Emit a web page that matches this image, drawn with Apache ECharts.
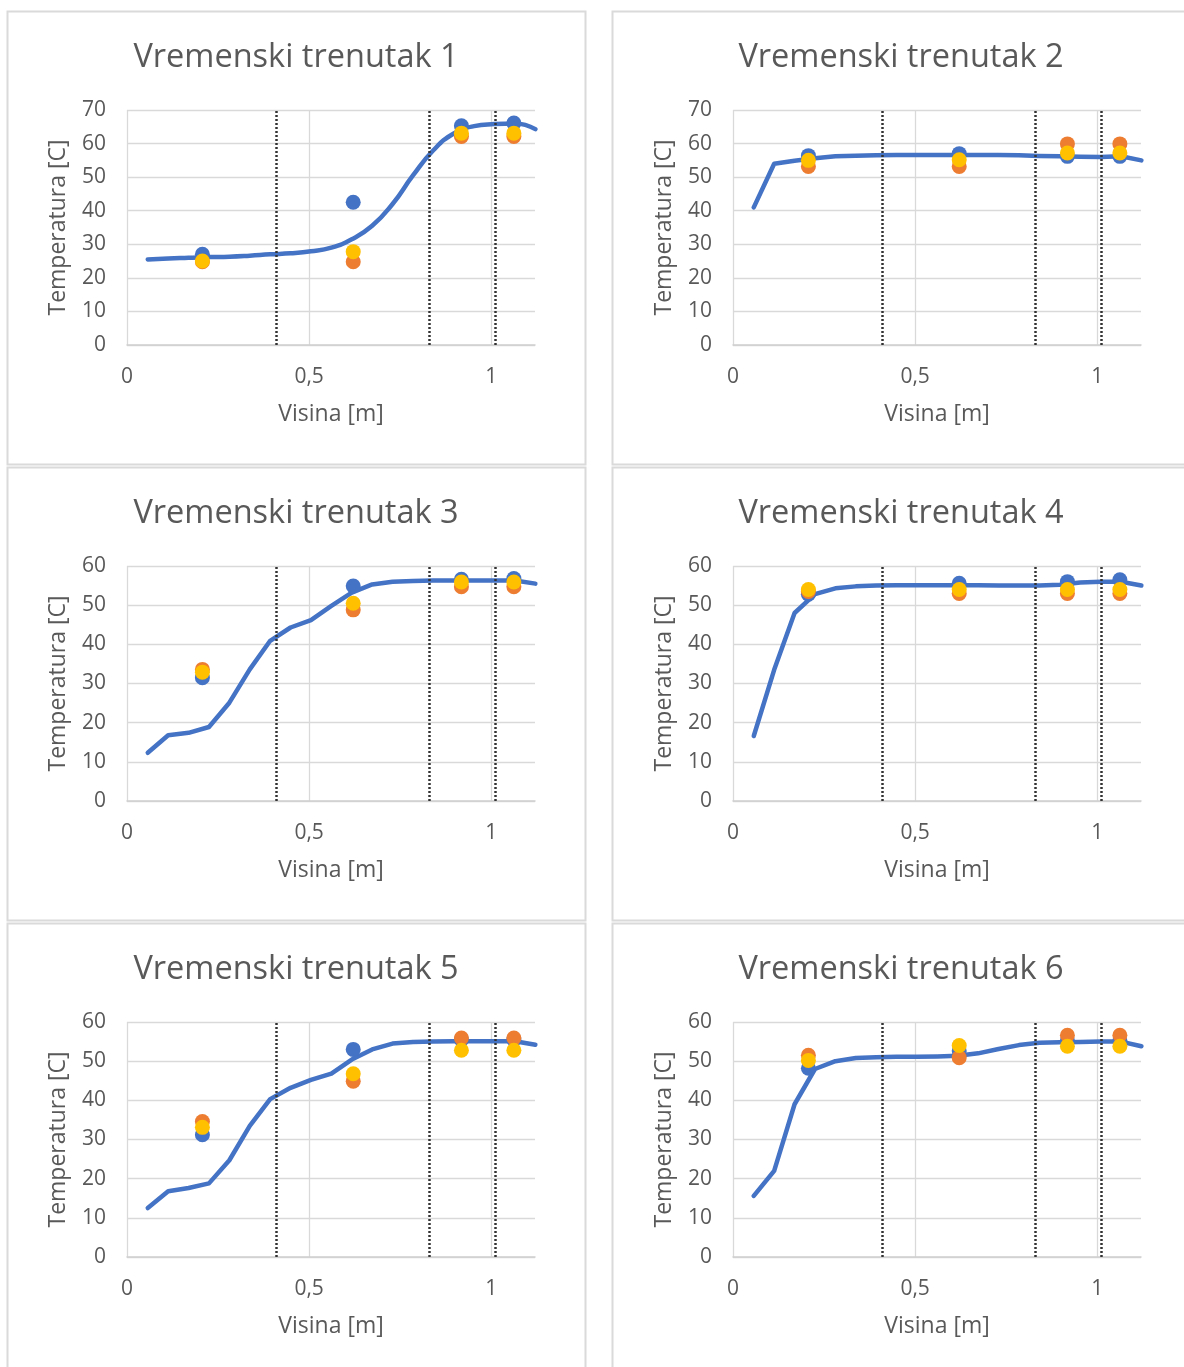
<!DOCTYPE html>
<html>
<head>
<meta charset="utf-8">
<title>Vremenski trenutak</title>
<script src="https://cdn.jsdelivr.net/npm/echarts@6/dist/echarts.min.js"></script>
<style>
  html, body { margin: 0; padding: 0; background: #fff; }
  #chart { width: 1184px; height: 1367px; }
</style>
</head>
<body>
<div id="chart"></div>
<script>
// chart titles and axis texts
const titles = ['Vremenski trenutak 1', 'Vremenski trenutak 2', 'Vremenski trenutak 3',
  'Vremenski trenutak 4', 'Vremenski trenutak 5', 'Vremenski trenutak 6']
const xName = 'Visina [m]'
const yName = 'Temperatura [C]'
const xTickLabels = ['0', '0,5', '1']
const yMax = [70, 70, 60, 60, 60, 60]

// heights of the simulated profile (m)
const heights = [0.057, 0.113, 0.169, 0.225, 0.281, 0.337, 0.393, 0.449, 0.505, 0.561,
  0.617, 0.673, 0.729, 0.785, 0.841, 0.897, 0.953, 1.009, 1.065, 1.121]
// heights of the sensors (m)
const sensorHeights = [0.207, 0.621, 0.918, 1.062]
// dotted separators (m)
const dividers = [0.415, 0.83, 1.007]

// simulated temperature per time step
const sim1 = [25.5, 25.8, 26.0, 26.2, 26.3, 26.6, 27.0, 27.3, 27.9, 29.0, 31.5, 35.5, 42.0, 50.5, 58.0, 63.0, 65.2, 65.8, 66.0, 64.3]
const sim2 = [41.0, 54.0, 54.9, 55.6, 56.2, 56.4, 56.5, 56.6, 56.6, 56.6, 56.6, 56.6, 56.6, 56.5, 56.3, 56.2, 56.1, 56.0, 56.2, 55.0]
const sim3 = [12.3, 16.8, 17.4, 18.9, 25.1, 33.6, 40.9, 44.3, 46.2, 49.8, 53.2, 55.3, 56.0, 56.2, 56.3, 56.3, 56.3, 56.3, 56.3, 55.5]
const sim4 = [16.6, 33.5, 48.0, 52.8, 54.3, 54.8, 55.0, 55.1, 55.1, 55.1, 55.1, 55.1, 55.0, 55.0, 55.0, 55.2, 55.8, 56.0, 56.0, 55.0]
const sim5 = [12.5, 16.8, 17.6, 18.8, 24.7, 33.5, 40.3, 43.2, 45.2, 46.8, 50.4, 53.0, 54.5, 54.9, 55.0, 55.1, 55.1, 55.1, 55.1, 54.2]
const sim6 = [15.6, 22.0, 39.0, 48.0, 50.0, 50.8, 51.0, 51.1, 51.1, 51.2, 51.4, 52.0, 53.1, 54.1, 54.7, 54.8, 54.9, 55.0, 55.0, 53.8]

// measured temperature (three probes) per time step
const probeA1 = [27.0, 42.5, 65.3, 66.1]
const probeB1 = [24.8, 24.8, 62.1, 62.1]
const probeC1 = [25.0, 27.8, 63.1, 63.1]
const probeA2 = [56.4, 57.0, 56.2, 56.2]
const probeB2 = [53.2, 53.2, 59.9, 59.9]
const probeC2 = [55.0, 55.2, 57.2, 57.2]
const probeA3 = [31.5, 54.9, 56.6, 56.8]
const probeB3 = [33.6, 48.8, 54.7, 54.7]
const probeC3 = [32.9, 50.5, 55.9, 55.9]
const probeA4 = [52.8, 55.6, 56.0, 56.5]
const probeB4 = [53.5, 53.0, 53.0, 53.0]
const probeC4 = [54.0, 54.0, 54.0, 54.0]
const probeA5 = [31.2, 53.0, 55.5, 55.5]
const probeB5 = [34.6, 44.9, 55.9, 55.9]
const probeC5 = [33.1, 46.8, 52.8, 52.8]
const probeA6 = [48.2, 52.6, 55.3, 55.3]
const probeB6 = [51.5, 50.9, 56.6, 56.6]
const probeC6 = [50.2, 54.0, 53.8, 53.8]

const sims = [sim1, sim2, sim3, sim4, sim5, sim6]
const probesA = [probeA1, probeA2, probeA3, probeA4, probeA5, probeA6]
const probesB = [probeB1, probeB2, probeB3, probeB4, probeB5, probeB6]
const probesC = [probeC1, probeC2, probeC3, probeC4, probeC5, probeC6]

const textColor = '#595959'
const gridColor = '#d9d9d9'
const font = 'Open Sans, Noto Sans, sans-serif'

// panel layout
const colLeft = [7, 612]
const rowTop = [11, 467, 923]
const panelW = 578
const panelH = 453

const pair = (xs, ys) => xs.map((x, i) => [x, ys[i]])

const chart = echarts.init(document.getElementById('chart'))

const grid = []
const xAxis = []
const yAxis = []
const series = []
const graphic = []

for (let i = 0; i < 6; i++) {
  const px = colLeft[i % 2]
  const py = rowTop[Math.floor(i / 2)]

  graphic.push({
    type: 'rect',
    z: -10,
    silent: true,
    shape: { x: px + 0.5, y: py + 0.5, width: panelW, height: panelH },
    style: { fill: '#fff', stroke: '#dadada', lineWidth: 2 }
  })
  graphic.push({
    type: 'text',
    silent: true,
    x: px + panelW / 2,
    y: py + 47,
    style: {
      text: titles[i],
      fill: textColor,
      fontSize: 32.5,
      fontFamily: font,
      align: 'center',
      verticalAlign: 'middle'
    }
  })

  grid.push({
    left: px + (i % 2 === 0 ? 120 : 121),
    top: py + 99,
    width: 408,
    height: 235
  })

  xAxis.push({
    type: 'value',
    gridIndex: i,
    min: 0,
    max: 1.12,
    interval: 0.5,
    name: xName,
    nameLocation: 'middle',
    nameGap: 58,
    nameTextStyle: { color: textColor, fontSize: 23, fontFamily: font },
    axisLine: { show: true, lineStyle: { color: '#cfcfcf', width: 1.5 } },
    axisTick: { show: false },
    axisLabel: {
      color: textColor,
      fontSize: 21,
      fontFamily: font,
      margin: 22,
      showMaxLabel: false,
      formatter: v => {
        const k = Math.round(v / 0.5)
        return Math.abs(v - k * 0.5) < 1e-6 ? (xTickLabels[k] || '') : ''
      }
    },
    splitLine: { show: true, showMaxLine: false, lineStyle: { color: gridColor, width: 1.3 } }
  })

  yAxis.push({
    type: 'value',
    gridIndex: i,
    min: 0,
    max: yMax[i],
    interval: 10,
    name: yName,
    nameLocation: 'middle',
    nameGap: 57,
    nameTextStyle: { color: textColor, fontSize: 23, fontFamily: font },
    axisLine: { show: false },
    axisTick: { show: false },
    axisLabel: { color: textColor, fontSize: 21, fontFamily: font, margin: 21 },
    splitLine: { show: true, lineStyle: { color: gridColor, width: 1.3 } }
  })

  series.push({
    type: 'line',
    xAxisIndex: i,
    yAxisIndex: i,
    data: pair(heights, sims[i]),
    smooth: i === 0,
    showSymbol: false,
    lineStyle: { color: '#4472C4', width: 4.5, cap: 'round', join: 'round' },
    markLine: {
      silent: true,
      symbol: 'none',
      label: { show: false },
      lineStyle: { color: '#333', width: 2.5, type: [2, 2] },
      data: dividers.map(d => ({ xAxis: d }))
    },
    z: 3
  })
  const probes = [[probesA[i], '#4472C4'], [probesB[i], '#ED7D31'], [probesC[i], '#FFC000']]
  probes.forEach(([vals, color]) => {
    series.push({
      type: 'scatter',
      xAxisIndex: i,
      yAxisIndex: i,
      data: pair(sensorHeights, vals),
      symbolSize: 15,
      itemStyle: { color: color, opacity: 1 },
      z: 4
    })
  })
}

chart.setOption({
  animation: false,
  backgroundColor: '#fff',
  graphic: graphic,
  grid: grid,
  xAxis: xAxis,
  yAxis: yAxis,
  series: series
})
</script>
</body>
</html>
